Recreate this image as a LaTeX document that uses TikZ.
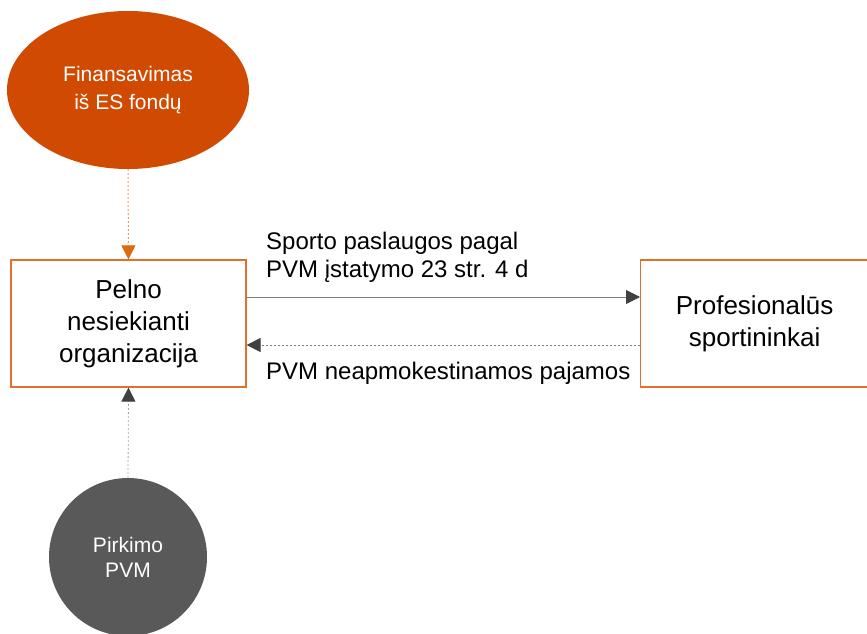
\documentclass[tikz,border=0pt]{standalone}
\usepackage{fontspec}
\setmainfont{Liberation Sans}
\usetikzlibrary{arrows.meta,shapes.geometric}
\definecolor{pwcorange}{HTML}{D04A02}
\definecolor{boxorange}{HTML}{E0702A}
\definecolor{darkgrey}{HTML}{595959}
\definecolor{linegrey}{HTML}{808080}
\definecolor{headgrey}{HTML}{404040}
\definecolor{dotorange}{HTML}{EE9A60}
\definecolor{tiporange}{HTML}{DD6A10}
\tikzset{
  orgbox/.style={draw=boxorange, line width=1.2pt, fill=white, minimum width=235pt, minimum height=127pt, inner sep=0pt, align=center, font=\fontsize{26}{32}\selectfont},
  fundell/.style={ellipse, fill=pwcorange, minimum width=242pt, minimum height=158pt, inner sep=0pt, text=white, align=center, font=\fontsize{21}{28}\selectfont},
  vatcirc/.style={circle, fill=darkgrey, minimum size=158pt, inner sep=0pt, text=white, align=center, font=\fontsize{21}{25}\selectfont},
  flowlabel/.style={anchor=west, align=left, inner sep=0pt, font=\fontsize{24}{28.5}\selectfont},
  greyarrow/.style={draw=linegrey, line width=0.8pt, -{Triangle[length=14pt,width=14pt,color=headgrey]}},
}
\begin{document}
\begin{tikzpicture}[x=1pt,y=-1pt]
\useasboundingbox (0,0) rectangle (867,633);
\node[fundell] (fund) at (128,90) {Finansavimas\\iš ES fondų};
\node[orgbox] (org) at (128.5,323.5) {Pelno\\nesiekianti\\organizacija};
\node[orgbox, minimum width=228pt, anchor=west] (pro) at (640,323.5) {Profesionalūs\\sportininkai};
\node[vatcirc] (vat) at (128,557) {Pirkimo\\PVM};
\coordinate (a1) at (org.east |- 0,297);
\coordinate (b1) at (pro.west |- 0,297);
\coordinate (a2) at (org.east |- 0,345);
\coordinate (b2) at (pro.west |- 0,345);
\draw[greyarrow] (a1) -- (b1);
\draw[greyarrow, dash pattern=on 2pt off 2pt] (b2) -- (a2);
\draw[draw=dotorange, line width=1pt, dash pattern=on 2pt off 2pt, -{Triangle[length=14pt,width=14pt,color=tiporange]}] (fund.south) -- (org.north);
\draw[greyarrow, dash pattern=on 2pt off 2pt, draw=linegrey!70] (vat.north) -- (org.south);
\node[flowlabel] (lbl1) at (266,257.5) {Sporto paslaugos pagal\\PVM įstatymo 23 str. 4 d};
\node[flowlabel] (lbl2) at (266,373) {PVM neapmokestinamos pajamos};
\end{tikzpicture}
\end{document}
